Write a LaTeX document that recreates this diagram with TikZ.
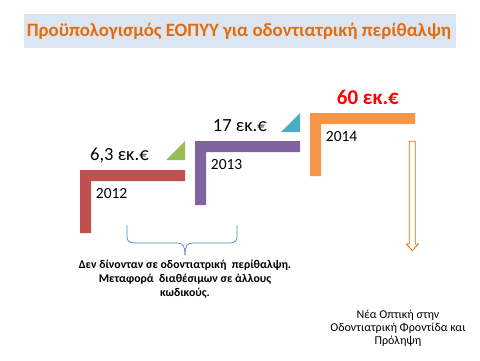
\documentclass[tikz,border=0pt]{standalone}
\usepackage{fontspec}
\setmainfont{Carlito}
\definecolor{titlebg}{HTML}{DCE6F2}
\definecolor{titlefg}{HTML}{E46C0A}
\definecolor{cred}{HTML}{C0504D}
\definecolor{cgreen}{HTML}{9BBB59}
\definecolor{cpurple}{HTML}{8064A2}
\definecolor{cblue}{HTML}{4BACC6}
\definecolor{corange}{HTML}{F79646}
\definecolor{cbrace}{HTML}{4F81BD}
\begin{document}
\begin{tikzpicture}[x=1pt,y=-1pt,
  amount/.style={font=\fontsize{18.5}{20}\selectfont, inner sep=0pt, anchor=base west},
  year/.style={font=\fontsize{15.5}{17}\selectfont, inner sep=0pt, anchor=base west},
  note/.style={inner sep=0pt, align=center}]
\useasboundingbox (0,0) rectangle (480,360);
% title
\fill[titlebg] (24,14) rectangle (456,48);
\node[font=\bfseries\fontsize{18.8}{20}\selectfont, text=titlefg, inner sep=0pt, anchor=base] (title) at (239,36.7)
  {Προϋπολογισμός ΕΟΠΥΥ για οδοντιατρική περίθαλψη};
% 2012
\fill[cred] (80,170) -- (185,170) -- (185,181) -- (91,181) -- (91,233) -- (80,233) -- cycle;
\fill[cgreen] (166,160) -- (185,141) -- (185,160) -- cycle;
\node[amount] (a2012) at (90,160) {6,3 εκ.€};
\node[year] (y2012) at (95.7,198.3) {2012};
% 2013
\fill[cpurple] (195,141) -- (300,141) -- (300,152) -- (206,152) -- (206,205) -- (195,205) -- cycle;
\fill[cblue] (281,132) -- (300,113) -- (300,132) -- cycle;
\node[amount] (a2013) at (212.7,131.8) {17 εκ.€};
\node[year] (y2013) at (210.7,169.3) {2013};
% 2014
\fill[corange] (310,113) -- (415,113) -- (415,124) -- (321,124) -- (321,176) -- (310,176) -- cycle;
\node[amount, font=\bfseries\fontsize{21}{23}\selectfont, text=red] (a2014) at (336.7,104) {60 εκ.€};
\node[year] (y2014) at (325.7,141.7) {2014};
% down arrow
\draw[titlefg, line width=0.8pt, fill=white] (409.3,141.3) -- (415.3,141.3) -- (415.3,244) -- (418.3,244)
  -- (412.3,250.7) -- (406.3,244) -- (409.3,244) -- cycle;
% brace
\draw[cbrace, line width=0.7pt] (127,225) -- (127,236) .. controls (127,241) and (129,243) .. (135,243)
  -- (177,243) .. controls (183,243) and (185,246) .. (185,255);
\draw[cbrace, line width=0.7pt] (237,225) -- (237,236) .. controls (237,241) and (235,243) .. (229,243)
  -- (193,243) .. controls (187,243) and (185,246) .. (185,255);
% notes
\node[note, font=\bfseries\fontsize{11.8}{14}\selectfont] (n1) at (185,279)
  {Δεν δίνονταν σε οδοντιατρική\ \ περίθαλψη.\\Μεταφορά\ \ διαθέσιμων σε άλλους\\κωδικούς.};
\node[note, font=\fontsize{12}{13}\selectfont] (n2) at (398,328.3) {Νέα Οπτική στην\\Οδοντιατρική Φροντίδα και\\Πρόληψη};
\end{tikzpicture}
\end{document}
